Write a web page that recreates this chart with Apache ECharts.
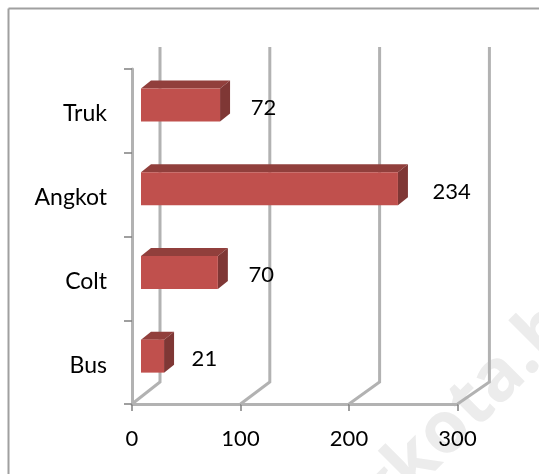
<!DOCTYPE html>
<html><head><meta charset="utf-8">
<style>html,body{margin:0;padding:0;background:#fff}#c{width:539px;height:474px}</style>
<script src="https://cdn.jsdelivr.net/npm/echarts@6/dist/echarts.min.js"></script>
</head><body><div id="c"></div>
<script>
const categories = ['Bus', 'Colt', 'Angkot', 'Truk'];
const values = [21, 70, 234, 72];
const tickValues = [0, 100, 200, 300];
const chart = echarts.init(document.getElementById('c'));
const DEPTH_X = 9, DEPTH_Y = 8, FRONT_H = 33, PLANE = 1.012;
const FONT = 'Lato';
function renderWall(params, api) {
  const v = api.value(0);
  const base = api.coord([v, 0]);
  const bottomY = api.coord([0, 0])[1] + api.size([0, 1])[1] / 2;
  const bx = api.coord([v * PLANE, 0])[0] + 28;
  return { type: 'polyline', silent: true, shape: { points: [[base[0], bottomY], [bx, bottomY - 22], [bx, 47]] },
    style: { fill: 'none', stroke: '#b2b2b2', lineWidth: 3 } };
}
function renderBar(params, api) {
  const idx = api.value(1), v = api.value(0);
  const c = api.coord([v, idx]), x0 = api.coord([0, idx])[0] + DEPTH_X, x1 = api.coord([v * PLANE, idx])[0] + DEPTH_X;
  const top = c[1] - 6 - FRONT_H / 2, bot = top + FRONT_H;
  const dx = DEPTH_X + 1, dy = DEPTH_Y;
  return { type: 'group', children: [
    { type: 'polygon', shape: { points: [[x0, top], [x0 + dx, top - dy], [x1 + dx, top - dy], [x1, top]] }, style: { fill: '#913f3c' } },
    { type: 'polygon', shape: { points: [[x1, top], [x1 + dx, top - dy], [x1 + dx, bot - dy], [x1, bot]] }, style: { fill: '#7f3735' } },
    { type: 'rect', shape: { x: x0, y: top, width: x1 - x0, height: FRONT_H }, style: { fill: '#c0504d' } },
    { type: 'text', z2: 5, style: { x: api.coord([v * 1.07, idx])[0] + 48, y: c[1] - 3, text: String(v), align: 'center', verticalAlign: 'middle',
      fill: '#000', font: '22px ' + FONT } }
  ] };
}
chart.setOption({
  animation: false,
  backgroundColor: '#fff',
  graphic: [
    { type: 'line', z: -10, shape: { x1: 8.5, y1: 8.5, x2: 539, y2: 8.5 }, style: { stroke: '#a0a0a0', lineWidth: 2 } },
    { type: 'line', z: -10, shape: { x1: 8.5, y1: 8.5, x2: 8.5, y2: 474 }, style: { stroke: '#a0a0a0', lineWidth: 2 } },
    { type: 'text', z: -10, x: 465, y: 412, rotation: Math.PI / 4, style: { text: 'gkota.b', font: 'bold 72px "Open Sans"', fill: '#ececec', align: 'center', verticalAlign: 'middle' } }
  ],
  grid: { left: 132, right: 81.5, top: 69, bottom: 70 },
  xAxis: { type: 'value', min: 0, max: 300, interval: 100, splitLine: { show: false },
    axisLine: { show: true, lineStyle: { color: '#b2b2b2', width: 3 } },
    axisTick: { show: true, length: 7, lineStyle: { color: '#808080', width: 1.5 } },
    axisLabel: { color: '#000', fontFamily: FONT, fontSize: 22, margin: 24 } },
  yAxis: { type: 'category', data: categories,
    axisLine: { show: true, lineStyle: { color: '#b2b2b2', width: 3 } },
    axisTick: { show: true, length: 8, lineStyle: { color: '#808080', width: 1.5 } },
    axisLabel: { color: '#000', fontFamily: FONT, fontSize: 23, margin: 25, verticalAlign: 'top', lineHeight: 6 } },
  series: [
    { type: 'custom', z: 1, clip: false, renderItem: renderWall, data: tickValues.map(t => [t, 0]) },
    { type: 'custom', z: 2, clip: false, renderItem: renderBar, data: values.map((v, i) => [v, i]) }
  ]
});
</script></body></html>
